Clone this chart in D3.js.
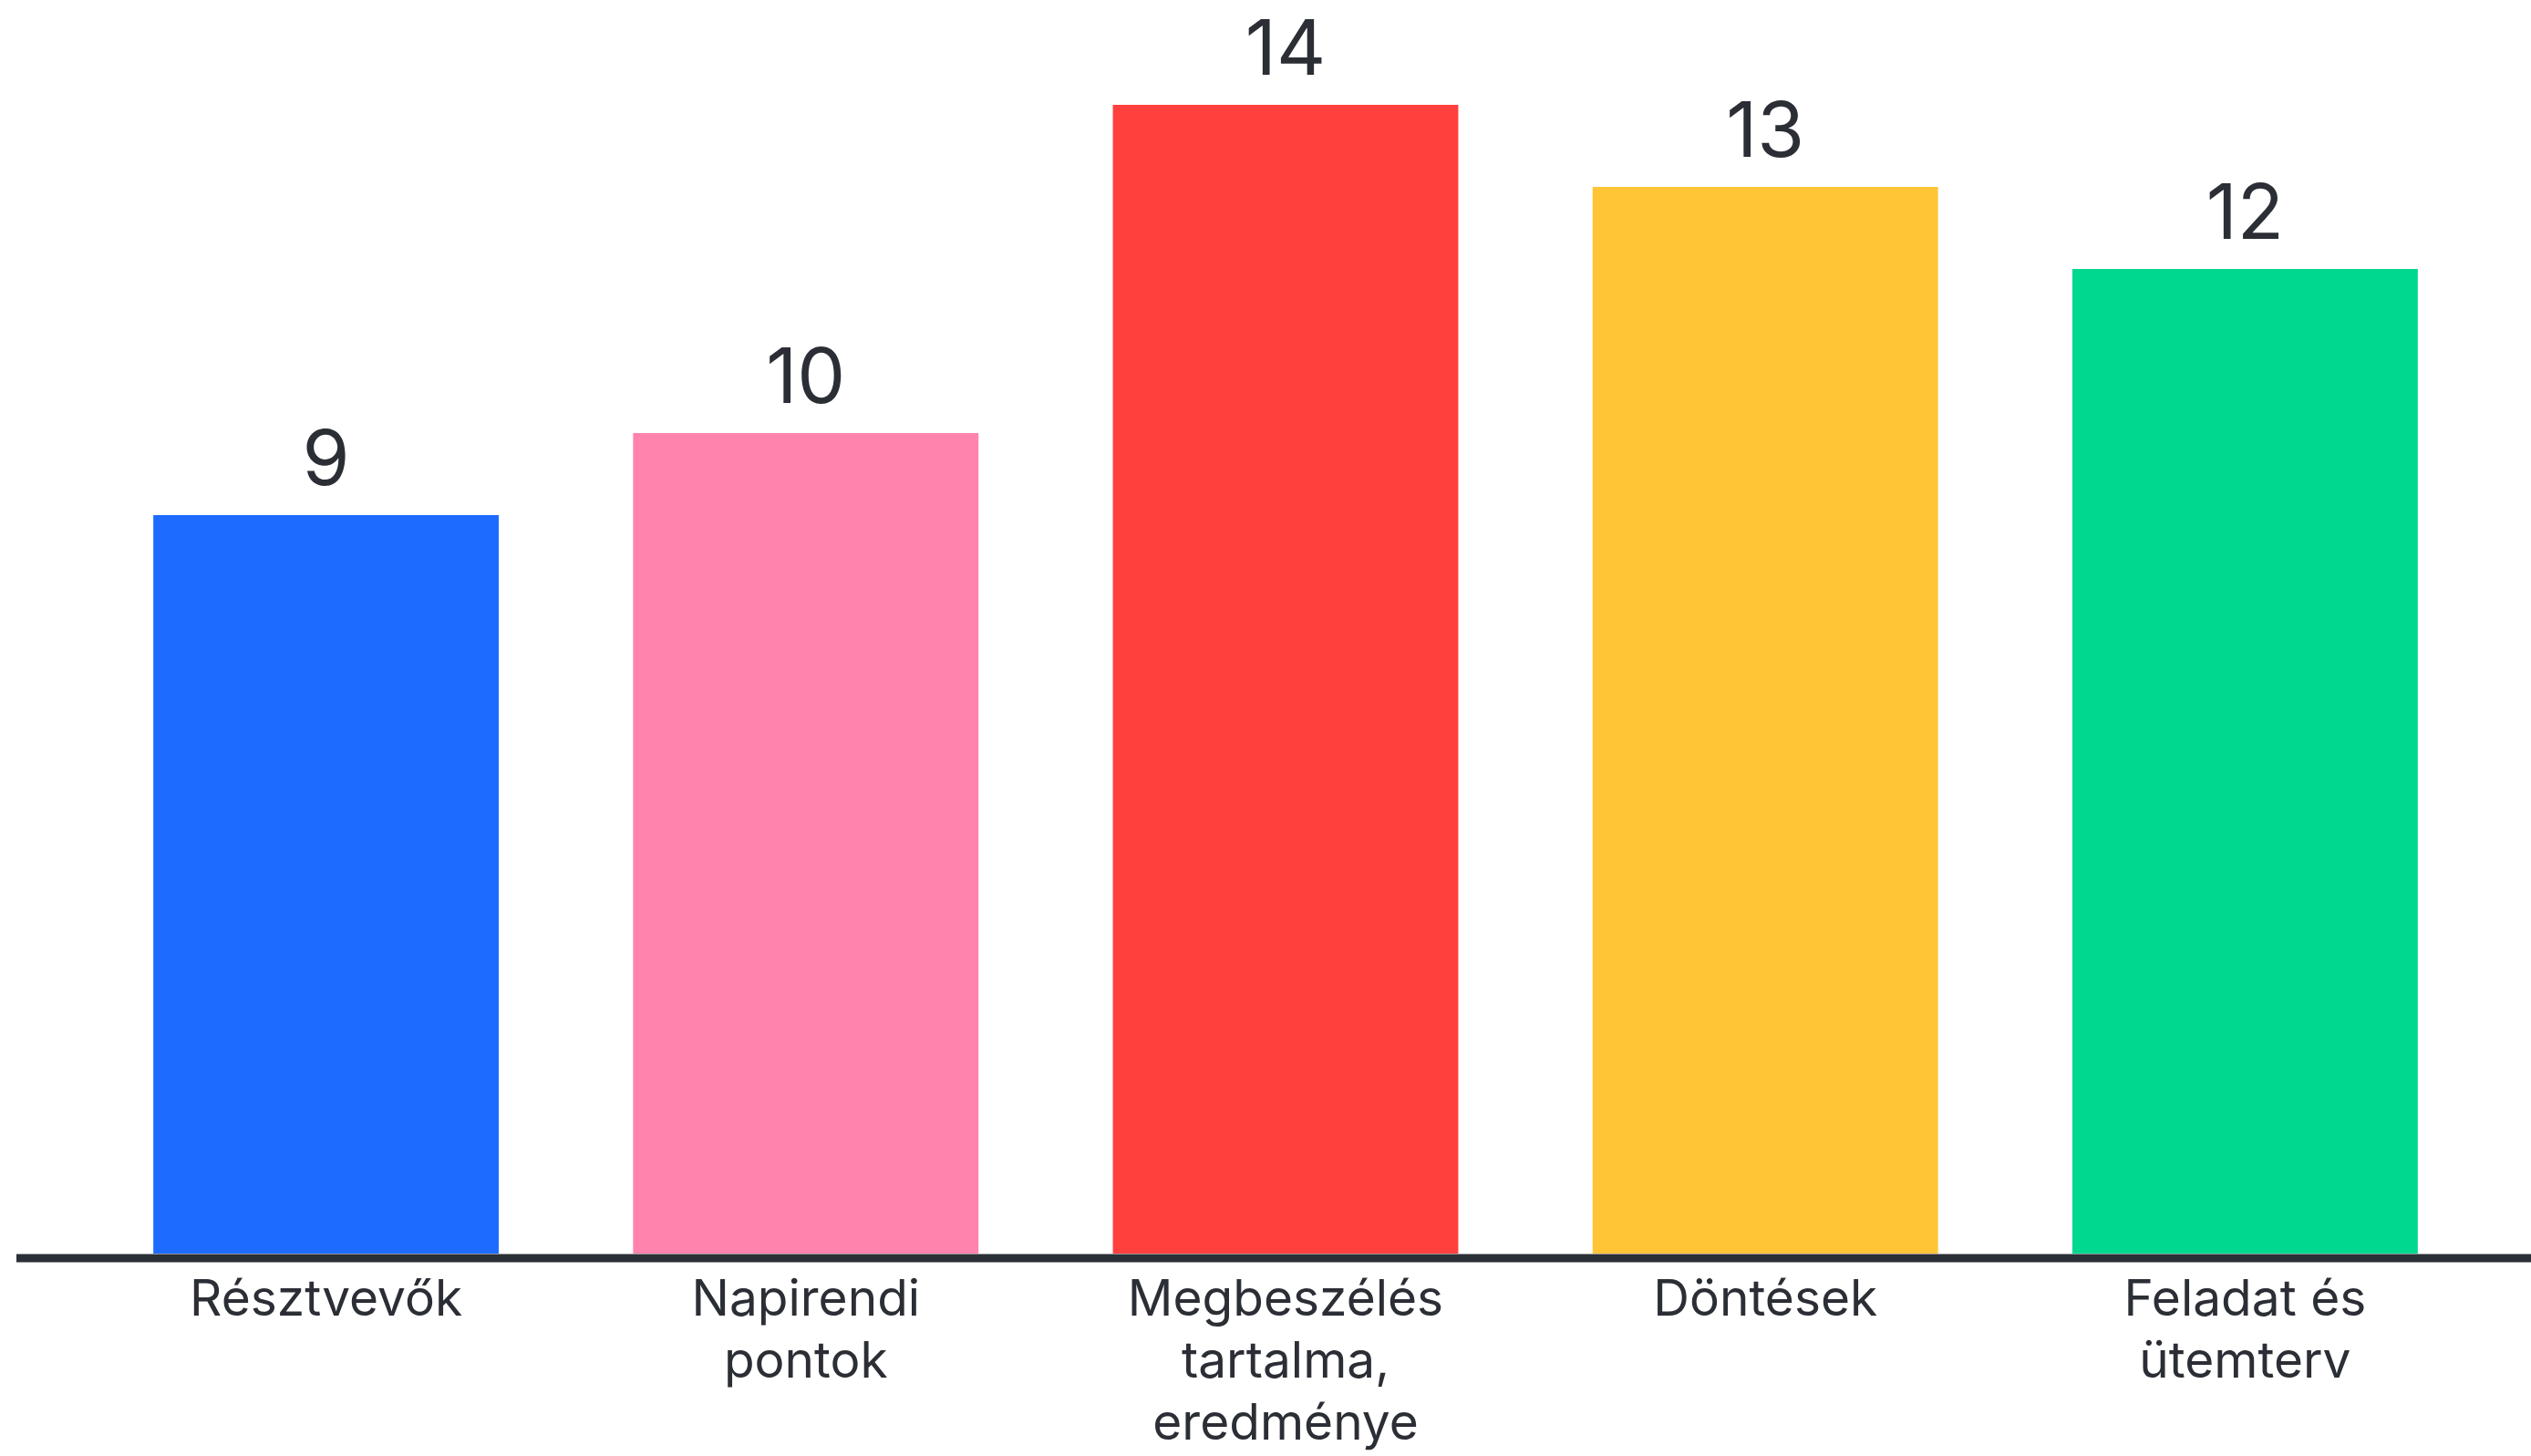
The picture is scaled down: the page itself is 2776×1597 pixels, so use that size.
<!DOCTYPE html>
<html>
<head>
<meta charset="utf-8">
<script src="https://cdn.jsdelivr.net/npm/d3@7"></script>
<style>
html,body{margin:0;padding:0;background:#fff;}
svg{display:block;}
</style>
</head>
<body>
<svg id="chart" width="2776" height="1597"></svg>
<script>
const categories = [
  ["Résztvevők"],
  ["Napirendi", "pontok"],
  ["Megbeszélés", "tartalma,", "eredménye"],
  ["Döntések"],
  ["Feladat és", "ütemterv"]
];
const values = [9, 10, 14, 13, 12];
const colors = ["#1d6bff", "#ff83ad", "#ff403d", "#ffc537", "#00d890"];

const W = 2776, H = 1597;
const svg = d3.select("#chart");
const font = "Inter, 'Open Sans', sans-serif";
const textColor = "#2b2e35";

const x = d3.scaleBand()
  .domain(d3.range(values.length))
  .range([94.5, 2725.5])
  .paddingInner(0.28)
  .paddingOuter(0.14);

const y = d3.scaleLinear().domain([0, 14]).range([1375, 115]);

svg.selectAll("rect.bar")
  .data(values)
  .enter().append("rect")
  .attr("class", "bar")
  .attr("x", (d, i) => x(i))
  .attr("width", x.bandwidth())
  .attr("y", d => y(d))
  .attr("height", d => y(0) - y(d))
  .attr("fill", (d, i) => colors[i]);

svg.append("line")
  .attr("x1", 18).attr("x2", W)
  .attr("y1", y(0) + 5).attr("y2", y(0) + 5)
  .attr("stroke", "#2b2f36")
  .attr("stroke-width", 9);

svg.selectAll("text.val")
  .data(values)
  .enter().append("text")
  .attr("class", "val")
  .attr("x", (d, i) => x(i) + x.bandwidth() / 2)
  .attr("y", d => y(d) - 33)
  .attr("text-anchor", "middle")
  .attr("font-family", font)
  .attr("font-size", 84)
  .attr("fill", textColor)
  .text(d => d);

const lab = svg.selectAll("text.cat")
  .data(categories)
  .enter().append("text")
  .attr("class", "cat")
  .attr("text-anchor", "middle")
  .attr("font-family", font)
  .attr("font-size", 55)
  .attr("fill", textColor)
  .attr("transform", (d, i) => `translate(${x(i) + x.bandwidth() / 2},1443)`);

lab.selectAll("tspan")
  .data(d => d)
  .enter().append("tspan")
  .attr("x", 0)
  .attr("y", (d, j) => j * 68)
  .text(d => d);
</script>
</body>
</html>
